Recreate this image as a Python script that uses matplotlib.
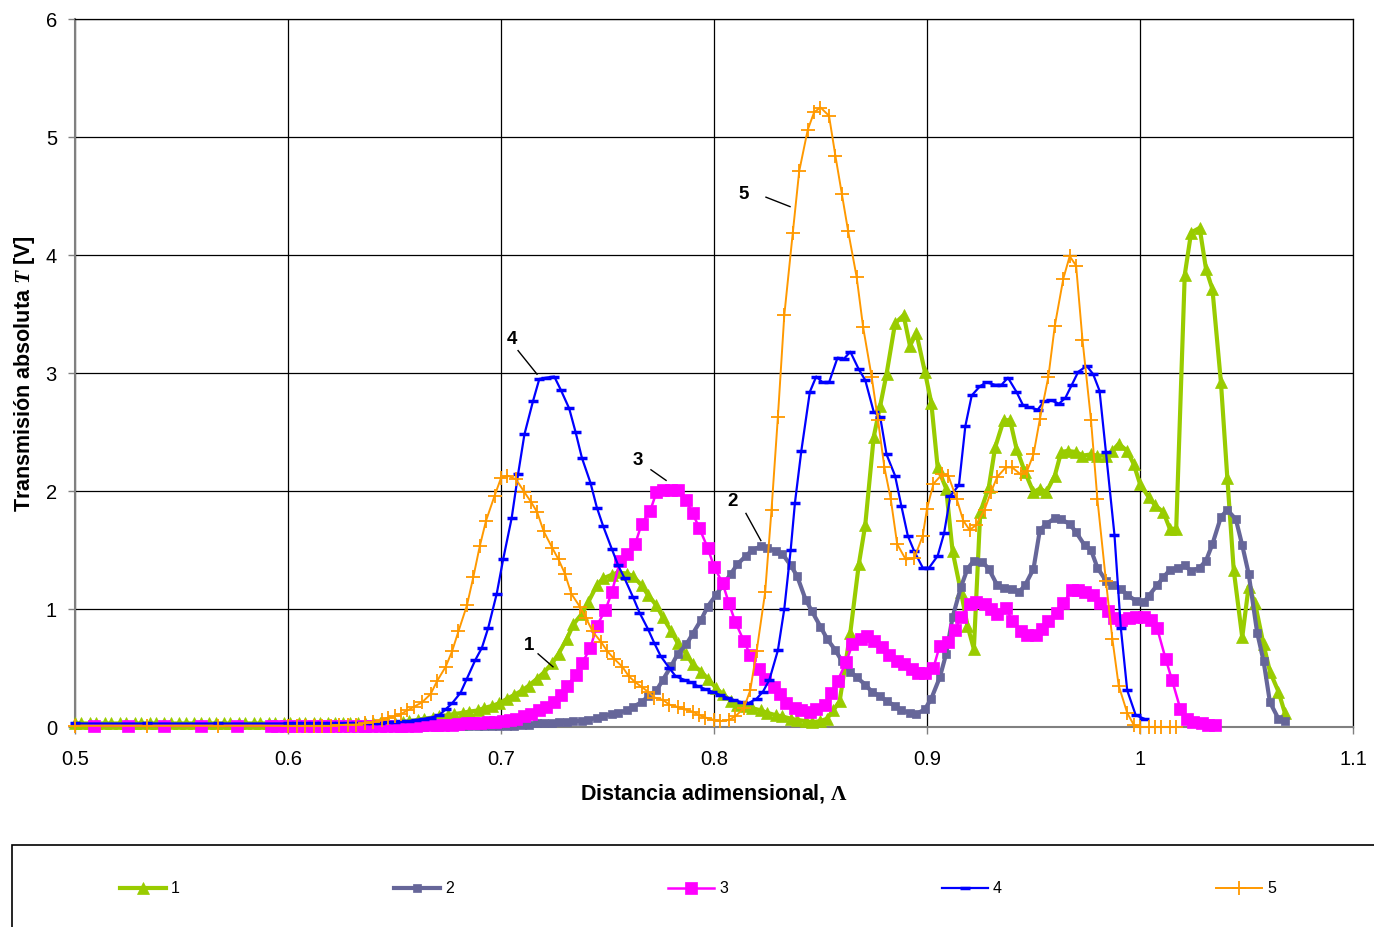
import matplotlib
matplotlib.use('Agg')
import matplotlib.pyplot as plt
from matplotlib.lines import Line2D
from matplotlib.patches import Rectangle

plt.rcParams['font.family'] = ['Liberation Sans', 'DejaVu Sans']
plt.rcParams['mathtext.fontset'] = 'custom'
plt.rcParams['mathtext.rm'] = 'Liberation Serif:bold'
plt.rcParams['mathtext.it'] = 'Liberation Serif:italic:bold'
plt.rcParams['mathtext.bf'] = 'Liberation Serif:bold'

# ---------------- data ----------------
labels = ['1', '2', '3', '4', '5']

x1 = [0.500, 0.503, 0.507, 0.510, 0.514, 0.517, 0.521, 0.524, 0.528, 0.531,
      0.535, 0.538, 0.542, 0.545, 0.549, 0.552, 0.556, 0.559, 0.563, 0.566,
      0.570, 0.573, 0.577, 0.580, 0.584, 0.587, 0.591, 0.594, 0.598, 0.601,
      0.605, 0.608, 0.612, 0.615, 0.619, 0.622, 0.626, 0.629, 0.633, 0.636,
      0.640, 0.643, 0.647, 0.650,
      0.654, 0.657, 0.661, 0.664, 0.668, 0.671, 0.675, 0.678, 0.682, 0.685,
      0.689, 0.692, 0.696, 0.699, 0.703, 0.706, 0.710, 0.713, 0.717, 0.720,
      0.724, 0.727, 0.731, 0.734, 0.738, 0.741, 0.745, 0.748, 0.752, 0.755,
      0.759, 0.762, 0.766, 0.769, 0.773, 0.776, 0.780, 0.783, 0.787, 0.790,
      0.794, 0.797, 0.801, 0.804, 0.808, 0.811, 0.815, 0.818, 0.822, 0.825,
      0.829, 0.832, 0.836, 0.839, 0.843, 0.846, 0.850, 0.853, 0.856, 0.859,
      0.864, 0.868, 0.871, 0.875, 0.878, 0.881, 0.885, 0.889, 0.892, 0.895,
      0.899, 0.902, 0.905, 0.909, 0.912, 0.916, 0.919, 0.922, 0.925, 0.929,
      0.932, 0.936, 0.939, 0.942, 0.946, 0.950, 0.953, 0.956, 0.960, 0.963,
      0.966, 0.970, 0.973, 0.977, 0.980, 0.984, 0.987, 0.990, 0.994, 0.997,
      1.000, 1.004, 1.007, 1.011, 1.014, 1.017, 1.021, 1.024, 1.028, 1.031,
      1.034, 1.038, 1.041, 1.044, 1.048, 1.051, 1.054, 1.058, 1.061, 1.065,
      1.068]
y1 = [0.03, 0.03, 0.03, 0.03, 0.03, 0.03, 0.03, 0.03, 0.03, 0.03,
      0.03, 0.03, 0.03, 0.03, 0.03, 0.03, 0.03, 0.03, 0.03, 0.03,
      0.03, 0.03, 0.03, 0.03, 0.03, 0.03, 0.03, 0.03, 0.03, 0.03,
      0.03, 0.03, 0.03, 0.03, 0.03, 0.03, 0.03, 0.03, 0.03, 0.03,
      0.03, 0.03, 0.03, 0.03,
      0.04, 0.05, 0.06, 0.07, 0.08, 0.09, 0.10, 0.11, 0.12, 0.13,
      0.14, 0.16, 0.18, 0.20, 0.24, 0.27, 0.31, 0.35, 0.41, 0.46,
      0.54, 0.62, 0.75, 0.87, 0.96, 1.06, 1.20, 1.26, 1.29, 1.31,
      1.30, 1.28, 1.20, 1.12, 1.03, 0.93, 0.81, 0.71, 0.62, 0.53,
      0.47, 0.41, 0.33, 0.28, 0.22, 0.19, 0.18, 0.16, 0.14, 0.12,
      0.10, 0.09, 0.07, 0.06, 0.05, 0.04, 0.05, 0.07, 0.14, 0.22,
      0.80, 1.38, 1.71, 2.46, 2.72, 2.99, 3.42, 3.49, 3.23, 3.34,
      3.01, 2.75, 2.20, 2.02, 1.49, 1.14, 0.86, 0.66, 1.82, 2.03,
      2.37, 2.60, 2.60, 2.36, 2.16, 1.99, 2.02, 1.99, 2.13, 2.33,
      2.34, 2.33, 2.30, 2.31, 2.30, 2.30, 2.34, 2.40, 2.34, 2.23,
      2.06, 1.95, 1.88, 1.82, 1.68, 1.68, 3.83, 4.19, 4.23, 3.88,
      3.71, 2.92, 2.11, 1.33, 0.76, 1.19, 1.05, 0.70, 0.47, 0.30,
      0.12]

x2 = [0.600, 0.605, 0.610, 0.615, 0.620, 0.625, 0.630, 0.635, 0.640, 0.645,
      0.650, 0.654, 0.657, 0.661, 0.664, 0.668, 0.671, 0.675, 0.678, 0.682,
      0.685, 0.689, 0.692, 0.696, 0.699, 0.703, 0.706, 0.710, 0.713, 0.717,
      0.720, 0.724, 0.727, 0.731, 0.734, 0.738, 0.741, 0.745, 0.748, 0.752,
      0.755, 0.759, 0.762, 0.766, 0.769, 0.773, 0.776, 0.780, 0.783, 0.787,
      0.790, 0.794, 0.797, 0.801, 0.804, 0.808, 0.811, 0.815, 0.818, 0.822,
      0.825, 0.829, 0.832, 0.836, 0.839, 0.843, 0.846, 0.850, 0.853, 0.857,
      0.860, 0.864, 0.867, 0.871, 0.874, 0.878, 0.881, 0.885, 0.888, 0.892,
      0.895, 0.899, 0.902, 0.906, 0.909, 0.912, 0.916, 0.919, 0.922, 0.926,
      0.929, 0.933, 0.936, 0.940, 0.943, 0.946, 0.950, 0.953, 0.956, 0.960,
      0.963, 0.967, 0.970, 0.974, 0.977, 0.980, 0.984, 0.987, 0.991, 0.994,
      0.998, 1.002, 1.004, 1.008, 1.011, 1.014, 1.018, 1.021, 1.024, 1.028,
      1.031, 1.034, 1.038, 1.041, 1.045, 1.048, 1.051, 1.055, 1.058, 1.061,
      1.065, 1.068]
y2 = [0.00, 0.00, 0.00, 0.00, 0.00, 0.00, 0.00, 0.00, 0.00, 0.00,
      0.00, 0.00, 0.00, 0.00, 0.00, 0.005, 0.005, 0.005, 0.005, 0.005,
      0.005, 0.01, 0.01, 0.01, 0.01, 0.01, 0.01, 0.02, 0.02, 0.03,
      0.03, 0.03, 0.04, 0.04, 0.05, 0.05, 0.06, 0.08, 0.09, 0.11,
      0.12, 0.14, 0.17, 0.21, 0.26, 0.31, 0.40, 0.52, 0.62, 0.70,
      0.79, 0.91, 1.02, 1.12, 1.20, 1.30, 1.38, 1.45, 1.50, 1.53,
      1.52, 1.49, 1.47, 1.37, 1.28, 1.08, 0.98, 0.85, 0.75, 0.65,
      0.56, 0.47, 0.42, 0.36, 0.30, 0.26, 0.22, 0.18, 0.14, 0.12,
      0.11, 0.15, 0.24, 0.42, 0.62, 0.93, 1.19, 1.34, 1.41, 1.40,
      1.34, 1.20, 1.18, 1.17, 1.14, 1.20, 1.34, 1.67, 1.72, 1.77,
      1.76, 1.72, 1.65, 1.54, 1.50, 1.35, 1.24, 1.20, 1.17, 1.12,
      1.07, 1.06, 1.11, 1.20, 1.27, 1.33, 1.35, 1.37, 1.32, 1.35,
      1.41, 1.55, 1.78, 1.84, 1.76, 1.54, 1.30, 0.80, 0.56, 0.21,
      0.07, 0.05]

x3 = [0.509, 0.525, 0.542, 0.559, 0.576, 0.592, 0.595, 0.599, 0.602, 0.605,
      0.609, 0.612, 0.616, 0.619, 0.622, 0.626, 0.629, 0.633, 0.636, 0.639,
      0.643, 0.646, 0.650, 0.653, 0.656, 0.660, 0.663, 0.667, 0.670, 0.673,
      0.677, 0.680, 0.684, 0.687, 0.690, 0.694, 0.697, 0.701, 0.704, 0.707,
      0.711, 0.714, 0.718, 0.721, 0.725, 0.728, 0.731, 0.735, 0.738, 0.742,
      0.745, 0.749, 0.752, 0.756, 0.759, 0.763, 0.766, 0.770, 0.773, 0.776,
      0.780, 0.783, 0.787, 0.790, 0.793, 0.797, 0.800, 0.804, 0.807, 0.810,
      0.814, 0.817, 0.821, 0.824, 0.828, 0.831, 0.834, 0.838, 0.841, 0.845,
      0.848, 0.852, 0.855, 0.858, 0.862, 0.865, 0.869, 0.872, 0.875, 0.879,
      0.882, 0.886, 0.889, 0.893, 0.896, 0.899, 0.903, 0.906, 0.910, 0.913,
      0.916, 0.920, 0.923, 0.927, 0.930, 0.933, 0.937, 0.940, 0.944, 0.947,
      0.951, 0.954, 0.957, 0.961, 0.964, 0.968, 0.971, 0.974, 0.978, 0.981,
      0.985, 0.988, 0.991, 0.995, 0.998, 1.002, 1.005, 1.008, 1.012, 1.015,
      1.019, 1.022, 1.025, 1.029, 1.032, 1.035]
y3 = [0.01, 0.01, 0.01, 0.01, 0.01, 0.01, 0.01, 0.01, 0.01, 0.01,
      0.01, 0.01, 0.01, 0.01, 0.01, 0.01, 0.01, 0.01, 0.01, 0.01,
      0.01, 0.01, 0.01, 0.01, 0.01, 0.01, 0.015, 0.015, 0.02, 0.02,
      0.02, 0.025, 0.03, 0.03, 0.035, 0.04, 0.045, 0.05, 0.06, 0.07,
      0.09, 0.11, 0.14, 0.17, 0.21, 0.27, 0.35, 0.44, 0.54, 0.67,
      0.86, 0.99, 1.14, 1.41, 1.47, 1.55, 1.72, 1.83, 1.99, 2.01,
      2.01, 2.01, 1.92, 1.81, 1.69, 1.52, 1.36, 1.22, 1.05, 0.89,
      0.73, 0.61, 0.49, 0.41, 0.34, 0.28, 0.20, 0.16, 0.14, 0.13,
      0.15, 0.19, 0.29, 0.39, 0.55, 0.70, 0.75, 0.77, 0.73, 0.68,
      0.61, 0.56, 0.53, 0.49, 0.46, 0.46, 0.50, 0.69, 0.72, 0.82,
      0.93, 1.04, 1.06, 1.04, 1.00, 0.96, 1.01, 0.90, 0.81, 0.78,
      0.78, 0.83, 0.90, 0.97, 1.05, 1.16, 1.16, 1.14, 1.12, 1.05,
      0.98, 0.92, 0.91, 0.92, 0.93, 0.93, 0.91, 0.84, 0.58, 0.40,
      0.15, 0.07, 0.04, 0.03, 0.02, 0.02]

x4 = [0.500, 0.534, 0.567, 0.600, 0.604, 0.608, 0.612, 0.616, 0.620, 0.624,
      0.628, 0.632, 0.636, 0.640, 0.643, 0.647, 0.650, 0.653, 0.657, 0.660,
      0.664, 0.667, 0.671, 0.674, 0.677, 0.681, 0.684, 0.688, 0.691, 0.694,
      0.698, 0.701, 0.705, 0.708, 0.711, 0.715, 0.718, 0.721, 0.725, 0.728,
      0.732, 0.735, 0.738, 0.742, 0.745, 0.748, 0.752, 0.755, 0.758, 0.762,
      0.765, 0.769, 0.772, 0.775, 0.779, 0.782, 0.786, 0.789, 0.792, 0.796,
      0.799, 0.803, 0.806, 0.809, 0.813, 0.816, 0.820, 0.823, 0.826, 0.830,
      0.833, 0.836, 0.838, 0.841, 0.845, 0.848, 0.851, 0.854, 0.858, 0.861,
      0.864, 0.868, 0.871, 0.875, 0.878, 0.881, 0.885, 0.888, 0.891, 0.894,
      0.898, 0.901, 0.905, 0.908, 0.911, 0.915, 0.918, 0.921, 0.925, 0.928,
      0.932, 0.935, 0.938, 0.942, 0.945, 0.948, 0.952, 0.955, 0.958, 0.962,
      0.965, 0.968, 0.971, 0.975, 0.978, 0.981, 0.984, 0.988, 0.991, 0.994,
      0.998, 1.002]
y4 = [0.03, 0.03, 0.03, 0.03, 0.03, 0.03, 0.03, 0.03, 0.03, 0.03,
      0.03, 0.03, 0.03, 0.03, 0.03, 0.04, 0.04, 0.05, 0.05, 0.06,
      0.07, 0.08, 0.10, 0.15, 0.20, 0.29, 0.41, 0.57, 0.67, 0.84,
      1.13, 1.42, 1.77, 2.14, 2.48, 2.76, 2.95, 2.96, 2.97, 2.86,
      2.70, 2.50, 2.28, 2.07, 1.86, 1.70, 1.51, 1.37, 1.26, 1.10,
      0.97, 0.83, 0.71, 0.60, 0.50, 0.43, 0.40, 0.38, 0.35, 0.32,
      0.30, 0.27, 0.25, 0.23, 0.21, 0.20, 0.24, 0.30, 0.40, 0.65,
      1.00, 1.50, 1.90, 2.34, 2.84, 2.97, 2.92, 2.92, 3.13, 3.12,
      3.18, 3.03, 2.94, 2.67, 2.63, 2.31, 2.13, 1.87, 1.62, 1.49,
      1.35, 1.35, 1.45, 1.64, 1.96, 2.05, 2.55, 2.81, 2.89, 2.92,
      2.90, 2.90, 2.96, 2.84, 2.73, 2.71, 2.69, 2.76, 2.77, 2.74,
      2.79, 2.90, 3.01, 3.06, 2.99, 2.85, 2.33, 1.63, 0.84, 0.31,
      0.10, 0.07]

x5 = [0.500, 0.534, 0.567, 0.600, 0.604, 0.608, 0.612, 0.616, 0.620, 0.624,
      0.628, 0.632, 0.636, 0.640, 0.644, 0.647, 0.650, 0.653, 0.656, 0.659,
      0.663, 0.667, 0.670, 0.674, 0.677, 0.680, 0.684, 0.687, 0.690, 0.693,
      0.697, 0.700, 0.703, 0.707, 0.711, 0.714, 0.717, 0.720, 0.724, 0.727,
      0.730, 0.733, 0.737, 0.740, 0.743, 0.747, 0.750, 0.753, 0.757, 0.760,
      0.763, 0.766, 0.769, 0.772, 0.776, 0.779, 0.783, 0.786, 0.790, 0.793,
      0.796, 0.800, 0.803, 0.807, 0.810, 0.814, 0.817, 0.820, 0.824, 0.827,
      0.830, 0.833, 0.837, 0.840, 0.844, 0.847, 0.850, 0.854, 0.857, 0.860,
      0.863, 0.867, 0.870, 0.874, 0.877, 0.880, 0.883, 0.886, 0.890, 0.894,
      0.898, 0.900, 0.903, 0.907, 0.910, 0.914, 0.917, 0.920, 0.923, 0.927,
      0.930, 0.933, 0.937, 0.940, 0.944, 0.947, 0.950, 0.953, 0.957, 0.960,
      0.964, 0.967, 0.970, 0.973, 0.977, 0.980, 0.984, 0.987, 0.990, 0.994,
      0.997, 1.000, 1.004, 1.007, 1.010, 1.014, 1.017]
y5 = [0.01, 0.01, 0.01, 0.01, 0.01, 0.01, 0.01, 0.01, 0.01, 0.015,
      0.02, 0.02, 0.03, 0.04, 0.06, 0.08, 0.09, 0.11, 0.14, 0.17,
      0.21, 0.28, 0.39, 0.51, 0.64, 0.81, 1.03, 1.27, 1.53, 1.75,
      1.96, 2.11, 2.13, 2.10, 1.99, 1.91, 1.82, 1.66, 1.52, 1.42,
      1.30, 1.13, 1.02, 0.92, 0.81, 0.72, 0.64, 0.58, 0.51, 0.43,
      0.38, 0.34, 0.30, 0.25, 0.23, 0.19, 0.17, 0.15, 0.13, 0.10,
      0.08, 0.06, 0.05, 0.06, 0.09, 0.16, 0.31, 0.64, 1.14, 1.84,
      2.63, 3.49, 4.19, 4.71, 5.06, 5.21, 5.25, 5.18, 4.84, 4.52,
      4.20, 3.81, 3.39, 2.97, 2.60, 2.20, 1.93, 1.55, 1.42, 1.43,
      1.62, 1.85, 2.06, 2.14, 2.13, 1.93, 1.75, 1.67, 1.71, 1.84,
      1.99, 2.12, 2.20, 2.20, 2.14, 2.17, 2.31, 2.61, 2.97, 3.40,
      3.80, 3.99, 3.91, 3.28, 2.60, 1.93, 1.24, 0.75, 0.35, 0.12,
      0.02, 0.00, 0.00, 0.00, 0.00, 0.00, 0.00]

x_ticks = [0.5, 0.6, 0.7, 0.8, 0.9, 1.0, 1.1]
x_tick_labels = ['0.5', '0.6', '0.7', '0.8', '0.9', '1', '1.1']
y_ticks = [0, 1, 2, 3, 4, 5, 6]
y_tick_labels = ['0', '1', '2', '3', '4', '5', '6']

# annotation: label, text position, line start, line end (data coords)
annotations = [
    ('1', (0.7131, 0.70), (0.7174, 0.62), (0.7244, 0.51)),
    ('2', (0.8089, 1.92), (0.8150, 1.81), (0.8220, 1.58)),
    ('3', (0.7643, 2.27), (0.7704, 2.18), (0.7775, 2.09)),
    ('4', (0.7052, 3.29), (0.7080, 3.19), (0.7169, 2.99)),
    ('5', (0.8141, 4.52), (0.8244, 4.49), (0.8357, 4.41)),
]

# ---------------- style ----------------
styles = [
    dict(color='#99CC00', lw=3.0, marker='^', ms=8.5, mew=0.5),
    dict(color='#666699', lw=3.0, marker='s', ms=6.0, mew=0.5),
    dict(color='#FF00FF', lw=1.8, marker='s', ms=9.0, mew=0.5),
    dict(color='#0000FF', lw=1.6, marker='_', ms=7.0, mew=2.5),
    dict(color='#FF9900', lw=1.4, marker='+', ms=10.0, mew=1.3),
]

W, H = 1374, 928
fig = plt.figure(figsize=(W / 100, H / 100), dpi=100)
ax = fig.add_axes([75 / W, 1 - 728 / H, 1278 / W, 708 / H])

xs = [x1, x2, x3, x4, x5]
ys = [y1, y2, y3, y4, y5]
for i, (x, y, st, lab) in enumerate(zip(xs, ys, styles, labels)):
    ax.plot(x, y, color=st['color'], lw=st['lw'], marker=st['marker'],
            ms=st['ms'], mew=st['mew'], mec=st['color'], mfc=st['color'],
            label=lab, zorder=3 + i, clip_on=False)

ax.set_xlim(0.5, 1.1)
ax.set_ylim(0, 6)
ax.set_xticks(x_ticks)
ax.set_xticklabels(x_tick_labels)
ax.set_yticks(y_ticks)
ax.set_yticklabels(y_tick_labels)
ax.grid(True, color='black', lw=0.9)
ax.set_axisbelow(True)
for side in ['top', 'right']:
    ax.spines[side].set_color('black')
    ax.spines[side].set_linewidth(0.9)
for side in ['left', 'bottom']:
    ax.spines[side].set_color('#808080')
    ax.spines[side].set_linewidth(1.5)
ax.tick_params(axis='both', direction='out', length=5, width=1,
               color='#808080', labelsize=14.5)
ax.tick_params(axis='x', pad=11)
ax.tick_params(axis='y', pad=8)

ax.set_xlabel('Distancia adimensional, $\\Lambda$', fontsize=15.5,
              fontweight='bold', labelpad=9)
ax.set_ylabel('Transmisión absoluta $T$ [V]', fontsize=15.5,
              fontweight='bold', labelpad=6)

for lab, tpos, p0, p1 in annotations:
    ax.text(tpos[0], tpos[1], lab, fontsize=13.5, fontweight='bold',
            ha='center', va='center', zorder=10)
    ax.plot([p0[0], p1[0]], [p0[1], p1[1]], color='black', lw=1, zorder=10)

# ---------------- legend ----------------
fig.add_artist(Rectangle((12 / W, -0.2), 2.0, 0.2 + (1 - 846 / H),
                         transform=fig.transFigure, fill=False,
                         edgecolor='black', lw=1.2))
leg_y = 1 - 889 / H
for i, (st, lab) in enumerate(zip(styles, labels)):
    x0 = 120 + 274 * i
    x1_ = x0 + 46
    fig.add_artist(Line2D([x0 / W, x1_ / W], [leg_y, leg_y],
                          transform=fig.transFigure, color=st['color'],
                          lw=st['lw']))
    fig.add_artist(Line2D([(x0 + 23) / W], [leg_y], transform=fig.transFigure,
                          color=st['color'], marker=st['marker'], ms=st['ms'],
                          mew=st['mew'], mec=st['color'], mfc=st['color'],
                          lw=0))
    fig.text((x0 + 51) / W, leg_y, lab, fontsize=11.5, va='center', ha='left')

fig.savefig('out.png', dpi=100)
